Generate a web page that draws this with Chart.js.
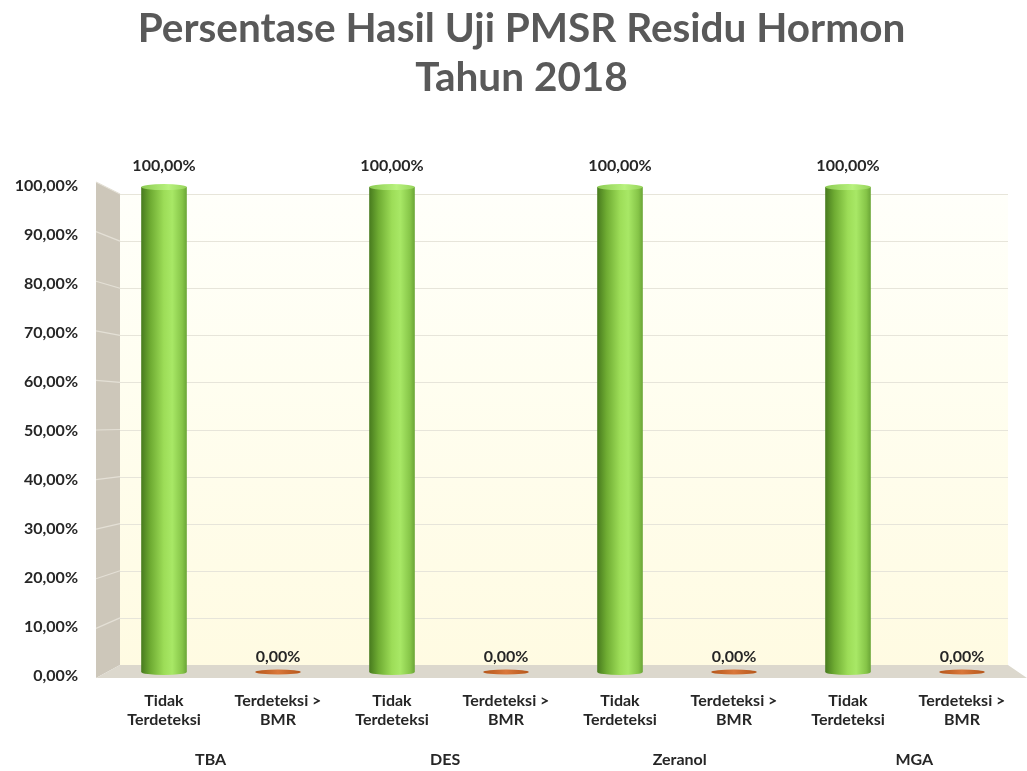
<!DOCTYPE html>
<html>
<head>
<meta charset="utf-8">
<script src="https://cdn.jsdelivr.net/npm/chart.js@4/dist/chart.umd.min.js"></script>
<style>
html,body{margin:0;padding:0;background:#fff;}
#wrap{width:1027px;height:771px;}
</style>
</head>
<body>
<div id="wrap"><canvas id="c" width="1027" height="771"></canvas></div>
<script>
const categories = [
  ['Tidak','Terdeteksi'], ['Terdeteksi >','BMR'],
  ['Tidak','Terdeteksi'], ['Terdeteksi >','BMR'],
  ['Tidak','Terdeteksi'], ['Terdeteksi >','BMR'],
  ['Tidak','Terdeteksi'], ['Terdeteksi >','BMR']
];
const groups = ['TBA','DES','Zeranol','MGA'];
const values = [100, 0, 100, 0, 100, 0, 100, 0];
const yTicks = [0,10,20,30,40,50,60,70,80,90,100];
const titleLines = ['Persentase Hasil Uji PMSR Residu Hormon','Tahun 2018'];

const FONT = 'Lato, "Open Sans", sans-serif';
const SMALL = 16;
const TXT = '#262626';
const fmt = v => v.toFixed(2).replace('.', ',') + '%';

const titleShift = {
  id: 'titleShift',
  afterLayout(chart) {
    if (chart.titleBlock) chart.titleBlock.left = 24;
  }
};

const wallsPlugin = {
  id: 'walls',
  beforeDatasetsDraw(chart) {
    const {ctx, scales: {y}} = chart;
    const fx = 96, bx = 120, right = 1008;
    const f0 = y.getPixelForValue(0) + 2, f100 = y.getPixelForValue(100) - 4;
    const b0 = f0 - 13, b100 = f100 + 12;
    const backY = v => b0 + (b100 - b0) * v / 100;
    const frontY = v => f0 + (f100 - f0) * v / 100;
    ctx.save();
    const g = ctx.createLinearGradient(0, b100, 0, b0);
    g.addColorStop(0, '#fffffa');
    g.addColorStop(0.4, '#fffef0');
    g.addColorStop(1, '#fffbe2');
    ctx.fillStyle = g;
    ctx.fillRect(bx, b100, right - bx, b0 - b100);
    ctx.fillStyle = '#cdc7ba';
    ctx.beginPath();
    ctx.moveTo(fx, f100); ctx.lineTo(bx, b100); ctx.lineTo(bx, b0); ctx.lineTo(fx, f0);
    ctx.closePath(); ctx.fill();
    ctx.fillStyle = '#dcd8cd';
    ctx.beginPath();
    ctx.moveTo(fx, f0); ctx.lineTo(bx, b0); ctx.lineTo(right, b0); ctx.lineTo(1027, f0);
    ctx.closePath(); ctx.fill();
    ctx.lineWidth = 1.2;
    yTicks.forEach(v => {
      if (v === 0) return;
      ctx.strokeStyle = '#e7e5da';
      ctx.beginPath();
      ctx.moveTo(bx, Math.round(backY(v)) + 0.5); ctx.lineTo(right, Math.round(backY(v)) + 0.5);
      ctx.stroke();
      ctx.strokeStyle = '#e4e0d6';
      ctx.beginPath();
      ctx.moveTo(fx, frontY(v)); ctx.lineTo(bx, backY(v));
      ctx.stroke();
    });
    ctx.restore();
  }
};

function greenGrad(ctx, x, w) {
  const g = ctx.createLinearGradient(x - w / 2, 0, x + w / 2, 0);
  g.addColorStop(0, '#477a1e');
  g.addColorStop(0.2, '#6eab32');
  g.addColorStop(0.5, '#9ddd58');
  g.addColorStop(0.68, '#a8e866');
  g.addColorStop(0.9, '#86c548');
  g.addColorStop(1, '#6aa536');
  return g;
}

const cylPlugin = {
  id: 'cyl',
  afterDatasetsDraw(chart) {
    const {ctx} = chart;
    const meta = chart.getDatasetMeta(0);
    ctx.save();
    meta.data.forEach((bar, i) => {
      const w = bar.width, x = bar.x;
      const base = bar.base - 4;
      if (values[i] > 0) {
        ctx.fillStyle = greenGrad(ctx, x, w);
        ctx.fillRect(x - w / 2, bar.y + 1, w, base - bar.y - 1);
        ctx.beginPath();
        ctx.ellipse(x, base, w / 2, 3, 0, 0, Math.PI);
        ctx.fill();
        const g = ctx.createLinearGradient(x - w / 2, 0, x + w / 2, 0);
        g.addColorStop(0, '#8ccb52');
        g.addColorStop(0.6, '#b8f27e');
        g.addColorStop(1, '#96d35a');
        ctx.fillStyle = g;
        ctx.beginPath();
        ctx.ellipse(x, bar.y + 1, w / 2, 3, 0, 0, Math.PI * 2);
        ctx.fill();
      } else {
        const g = ctx.createLinearGradient(x - w / 2, 0, x + w / 2, 0);
        g.addColorStop(0, '#b5561a');
        g.addColorStop(0.5, '#d9773a');
        g.addColorStop(1, '#b5561a');
        ctx.fillStyle = g;
        ctx.beginPath();
        ctx.ellipse(x, base, w / 2, 2.5, 0, 0, Math.PI * 2);
        ctx.fill();
      }
      ctx.fillStyle = TXT;
      ctx.font = 'bold ' + SMALL + 'px ' + FONT;
      ctx.textAlign = 'center';
      ctx.textBaseline = 'middle';
      const ly = values[i] > 0 ? bar.y - 20 : base - 15;
      ctx.fillText(fmt(values[i]), x, ly);
    });
    const xs = chart.scales.x;
    const cx = 582, k3d = 1.0287;
    ctx.font = 'bold ' + SMALL + 'px ' + FONT;
    ctx.fillStyle = TXT;
    ctx.textAlign = 'center';
    ctx.textBaseline = 'middle';
    groups.forEach((g, k) => {
      const mid = (xs.getPixelForValue(2 * k) + xs.getPixelForValue(2 * k + 1)) / 2;
      ctx.fillText(g, cx + (mid - cx) * k3d, 760);
    });
    ctx.restore();
  }
};

new Chart(document.getElementById('c'), {
  type: 'bar',
  data: {
    labels: categories,
    datasets: [{
      data: values,
      barPercentage: 0.4,
      categoryPercentage: 1,
      backgroundColor: 'rgba(0,0,0,0)',
      borderWidth: 0
    }]
  },
  options: {
    responsive: false,
    animation: false,
    layout: {padding: {left: 0, right: 8, top: 0, bottom: 0}},
    plugins: {
      legend: {display: false},
      tooltip: {enabled: false},
      title: {
        display: true,
        text: titleLines,
        color: '#595959',
        font: {family: FONT, size: 40.5, weight: 'bold', lineHeight: 1.21},
        padding: {top: 4, bottom: 84}
      }
    },
    scales: {
      x: {
        grid: {display: false, drawTicks: false},
        border: {display: false},
        ticks: {
          color: TXT,
          font: {family: FONT, size: SMALL, weight: 'bold', lineHeight: 1.2},
          padding: 15,
          maxRotation: 0,
          autoSkip: false
        },
        afterFit: s => { s.height = 95; }
      },
      y: {
        min: 0, max: 100,
        grid: {display: false, drawTicks: false},
        border: {display: false},
        afterBuildTicks: s => { s.ticks = yTicks.map(v => ({value: v})); },
        ticks: {
          color: TXT,
          font: {family: FONT, size: SMALL, weight: 'bold'},
          padding: 29,
          callback: v => fmt(v)
        },
        afterFit: s => { s.width = 107; }
      }
    }
  },
  plugins: [titleShift, wallsPlugin, cylPlugin]
});
</script>
</body>
</html>
